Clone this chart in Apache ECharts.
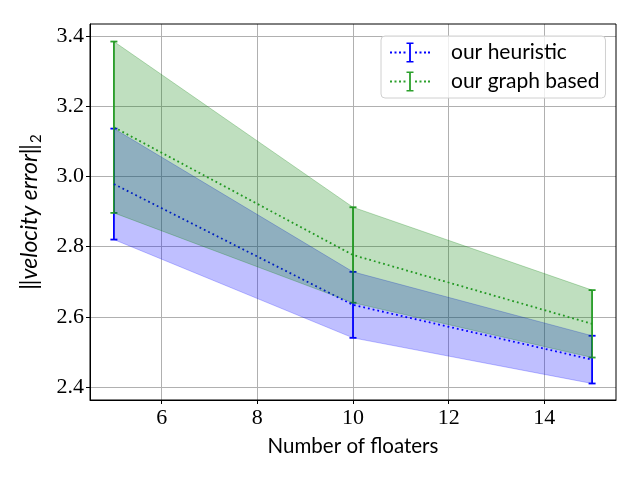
<!DOCTYPE html>
<html>
<head>
<meta charset="UTF-8">
<title>velocity error</title>
<script type="text/javascript" src="https://cdn.jsdelivr.net/npm/echarts@6/dist/echarts.min.js"></script>
</head>
<body style="margin:0">
	<div id="box" style="width:640px;height:480px;"></div>
	<script type="text/javascript">
		var floaters = [5, 10, 15];
		var heurMean = [2.978, 2.634, 2.478];
		var heurStd = [0.158, 0.094, 0.068];
		var graphMean = [3.140, 2.776, 2.580];
		var graphStd = [0.244, 0.136, 0.096];
		var xTicks = [6, 8, 10, 12, 14];
		var yTicks = [2.4, 2.6, 2.8, 3.0, 3.2, 3.4];

		var serif = '"Liberation Serif", "DejaVu Serif", serif';
		var sans = 'Lato, "DejaVu Sans", sans-serif';
		var blue = '#0000ff', green = '#2ca02c';

		function pts(vals) {
			return floaters.map(function (x, i) { return [x, vals[i]]; });
		}
		function errData(mean, std) {
			return floaters.map(function (x, i) { return [x, mean[i], std[i]]; });
		}
		// one item holding every (x, mean, std) triple, so the band is one polygon
		function bandData(mean, std) {
			var row = [];
			floaters.forEach(function (x, i) { row.push(x, mean[i], std[i]); });
			return [row];
		}
		function errBar(color) {
			return function (params, api) {
				var x = api.value(0), m = api.value(1), s = api.value(2);
				var top = api.coord([x, m + s]);
				var bot = api.coord([x, m - s]);
				var st = { stroke: color, lineWidth: 1.8 };
				return {
					type: 'group',
					children: [
						{ type: 'line', shape: { x1: top[0], y1: top[1], x2: bot[0], y2: bot[1] }, style: st },
						{ type: 'line', shape: { x1: top[0] - 3.5, y1: top[1], x2: top[0] + 3.5, y2: top[1] }, style: st },
						{ type: 'line', shape: { x1: bot[0] - 3.5, y1: bot[1], x2: bot[0] + 3.5, y2: bot[1] }, style: st }
					]
				};
			};
		}
		function bandRender(rgb) {
			var c = 'rgba(' + rgb + ',0.25)';
			return function (params, api) {
				var up = [], lo = [];
				for (var i = 0; i < floaters.length; i++) {
					var x = api.value(3 * i), m = api.value(3 * i + 1), s = api.value(3 * i + 2);
					up.push(api.coord([x, m + s]));
					lo.push(api.coord([x, m - s]));
				}
				return {
					type: 'group',
					children: [
						{ type: 'polygon', shape: { points: up.concat(lo.slice().reverse()) }, style: { fill: c } },
						{ type: 'polyline', shape: { points: up }, style: { stroke: c, lineWidth: 1, fill: null } },
						{ type: 'polyline', shape: { points: lo }, style: { stroke: c, lineWidth: 1, fill: null } }
					]
				};
			};
		}

		var icon = 'path://M0,9h2v2h-2z M4.5,9h2v2h-2z M9,9h2v2h-2z M13.5,9h2v2h-2z M16.5,0h7v1.6h-2.6v16.8h2.6v1.6h-7v-1.6h2.6v-16.8h-2.6z M25,9h2v2h-2z M29.5,9h2v2h-2z M34,9h2v2h-2z M38,9h2v2h-2z';

		var mychart = echarts.init(document.getElementById('box'));
		var option = {
			animation: false,
			grid: { left: 90, right: 24, top: 24, bottom: 80, show: true, borderColor: '#000', borderWidth: 1, z: 10 },
			legend: {
				data: [
					{ name: 'our heuristic', icon: icon, itemStyle: { color: blue } },
					{ name: 'our graph based', icon: icon, itemStyle: { color: green } }
				],
				orient: 'vertical', left: 381, top: 36, z: 20,
				itemWidth: 40, itemHeight: 21, itemGap: 8,
				padding: [6, 6, 6, 9],
				backgroundColor: 'rgba(255,255,255,0.8)',
				borderColor: '#d0d0d0', borderWidth: 1, borderRadius: 4,
				textStyle: { fontFamily: sans, fontSize: 21, color: '#000', padding: [0, 0, 0, 16] }
			},
			xAxis: {
				type: 'value', min: 4.5, max: 15.5,
				name: 'Number of floaters', nameLocation: 'middle', nameGap: 36,
				nameTextStyle: { fontFamily: sans, fontSize: 20.5, color: '#000' },
				axisLine: { show: true, onZero: false, lineStyle: { color: '#000' } },
				axisTick: { show: true, customValues: xTicks, length: 4, lineStyle: { color: '#000' } },
				axisLabel: { customValues: xTicks, fontFamily: serif, fontSize: 22, color: '#000', margin: 7 },
				splitLine: { show: true, lineStyle: { color: '#b0b0b0', width: 1 } }
			},
			yAxis: {
				type: 'value', min: 2.363, max: 3.434,
				name: '{a|‖}{b|velocity error}{a|‖}{c|2}', nameLocation: 'middle', nameGap: 46,
				nameTextStyle: {
					fontFamily: sans, fontSize: 23, color: '#000',
					rich: {
						a: { fontFamily: sans, fontSize: 23 },
						b: { fontFamily: sans, fontSize: 23, fontStyle: 'italic' },
						c: { fontFamily: sans, fontSize: 15, padding: [13, 0, 0, 1] }
					}
				},
				axisLine: { show: true, lineStyle: { color: '#000' } },
				axisTick: { show: true, customValues: yTicks, length: 4, lineStyle: { color: '#000' } },
				axisLabel: {
					customValues: yTicks, fontFamily: serif, fontSize: 22, color: '#000', margin: 6,
					formatter: function (v) { return v.toFixed(1); }
				},
				splitLine: { show: true, lineStyle: { color: '#b0b0b0', width: 1 } }
			},
			series: [
				{ name: 'our heuristic', type: 'line', data: pts(heurMean), symbol: 'none', z: 2,
				  lineStyle: { color: blue, width: 1.8, type: [1.8, 3.0] } },
				{ name: 'our graph based', type: 'line', data: pts(graphMean), symbol: 'none', z: 2,
				  lineStyle: { color: green, width: 1.8, type: [1.8, 3.0] } },
				{ name: 'heur err', type: 'custom', data: errData(heurMean, heurStd), z: 2,
				  renderItem: errBar(blue) },
				{ name: 'graph err', type: 'custom', data: errData(graphMean, graphStd), z: 2,
				  renderItem: errBar(green) },
				{ name: 'heur band', type: 'custom', data: bandData(heurMean, heurStd), z: 3, silent: true,
				  encode: { x: 0, y: 1 }, renderItem: bandRender('0,0,255') },
				{ name: 'graph band', type: 'custom', data: bandData(graphMean, graphStd), z: 4, silent: true,
				  encode: { x: 0, y: 1 }, renderItem: bandRender('0,128,0') }
			]
		};
		mychart.setOption(option);
	</script>
</body>
</html>
